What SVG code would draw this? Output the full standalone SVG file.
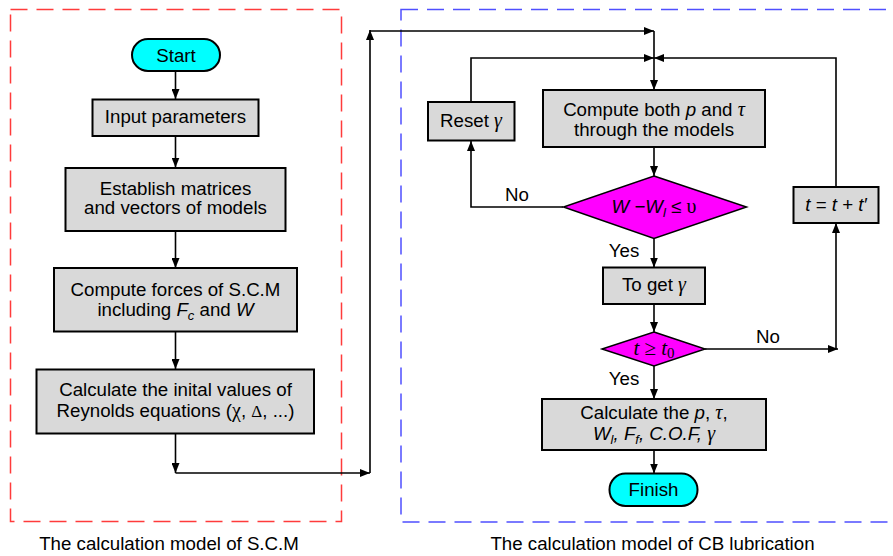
<svg xmlns="http://www.w3.org/2000/svg" width="893" height="556" viewBox="0 0 893 556">
<defs>
<marker id="ah" markerUnits="userSpaceOnUse" markerWidth="10" markerHeight="8" refX="10" refY="4" orient="auto">
<path d="M0,0 L10,4 L0,8 Z" fill="#000"/>
</marker>
<style>
.box{fill:#d9d9d9;stroke:#000;stroke-width:2}
.term{fill:#00ffff;stroke:#000;stroke-width:2}
.dec{fill:#ff00ff;stroke:#000;stroke-width:1.5}
.t{font-family:"Liberation Sans",Arial,sans-serif;font-size:18.7px;fill:#000;text-anchor:middle}
.i{font-style:italic}
.g{font-family:"Liberation Serif","Times New Roman",serif;font-style:italic;font-size:20px}
.c{fill:none;stroke:#000;stroke-width:1.6}
.a{marker-end:url(#ah)}
</style>
</defs>
<rect x="0" y="0" width="893" height="556" fill="#fff"/>
<rect x="10.5" y="9.5" width="331" height="512" fill="none" stroke="#ff3b3b" stroke-width="1.5" stroke-dasharray="17,9"/>
<rect x="401" y="9.5" width="520" height="512.5" fill="none" stroke="#4f4fff" stroke-width="1.5" stroke-dasharray="17,9"/>

<g id="connectors">
<path class="c a" d="M175.5,71 V99"/>
<path class="c a" d="M175.5,136 V167.5"/>
<path class="c a" d="M175.5,231 V268"/>
<path class="c a" d="M175.5,332 V369"/>
<path class="c a" d="M175.5,433 V473"/>
<path class="c a" d="M175.5,473 H370"/>
<path class="c a" d="M370,473 V30"/>
<path class="c a" d="M370,31 H654" stroke-width="2"/>
<path class="c a" d="M654,31 V90"/>
<path class="c a" d="M654,147 V176"/>
<path class="c a" d="M563,207 H471 V141"/>
<path class="c a" d="M471,102 V58 H654"/>
<path class="c a" d="M836,187 V58 H654"/>
<path class="c a" d="M654,239 V267.5"/>
<path class="c a" d="M654,304 V332"/>
<path class="c a" d="M705,349 H838"/>
<path class="c a" d="M836,349 V223"/>
<path class="c a" d="M654,366 V399"/>
<path class="c a" d="M654,450 V473.5"/>
</g>

<g id="start">
<rect class="term" x="132" y="39" width="88" height="32" rx="16"/>
<text class="t" x="176" y="62">Start</text>
</g>
<g id="input">
<rect class="box" x="92.5" y="99.5" width="166" height="36.5"/>
<text class="t" x="175.5" y="122.5">Input parameters</text>
</g>
<g id="establish">
<rect class="box" x="65.5" y="168" width="220" height="63"/>
<text class="t" x="175.5" y="194.5">Establish matrices</text>
<text class="t" x="175.5" y="214">and vectors of models</text>
</g>
<g id="forces">
<rect class="box" x="54" y="268" width="243" height="63.5"/>
<text class="t" x="175.5" y="295.5">Compute forces of S.C.M</text>
<text class="t" x="175.5" y="315.5">including <tspan class="i">F</tspan><tspan class="i" font-size="13" dy="4">c</tspan><tspan dy="-4"> and </tspan><tspan class="i">W</tspan></text>
</g>
<g id="initial">
<rect class="box" x="36.5" y="369.5" width="277.5" height="64"/>
<text class="t" x="175.5" y="396">Calculate the inital values of</text>
<text class="t" x="175.5" y="417">Reynolds equations (<tspan style="font-family:'Liberation Serif',serif;font-size:20px">χ</tspan>, <tspan style="font-family:'Liberation Serif',serif;font-size:17px">Δ</tspan>, ...)</text>
</g>

<g id="reset">
<rect class="box" x="428" y="102" width="86.5" height="38.5"/>
<text class="t" x="471" y="126.5">Reset <tspan class="g">γ</tspan></text>
</g>
<g id="compute">
<rect class="box" x="543" y="90" width="222" height="57"/>
<text class="t" x="654" y="115.5">Compute both <tspan class="i">p</tspan> and <tspan class="g">τ</tspan></text>
<text class="t" x="654" y="135.5">through the models</text>
</g>
<g id="check-w">
<polygon class="dec" points="654,176 746.5,207 654,238.5 563.5,207"/>
<text class="t" x="654" y="213"><tspan class="i">W</tspan>  <tspan class="i">−W</tspan><tspan class="i" font-size="13" dy="4">l</tspan><tspan dy="-4"> ≤ </tspan><tspan style="font-family:'Liberation Serif',serif;font-size:20px">υ</tspan></text>
</g>
<g id="toget">
<rect class="box" x="603" y="267.5" width="102" height="36.5"/>
<text class="t" x="654" y="291">To get <tspan class="g">γ</tspan></text>
</g>
<g id="check-t">
<polygon class="dec" points="654,332 705,349 654,366 602,349"/>
<text class="t" x="654" y="355" style="font-family:'Liberation Serif','Times New Roman',serif;font-size:21px"><tspan font-style="italic">t</tspan> ≥ <tspan font-style="italic">t</tspan><tspan font-size="15" dy="3">0</tspan></text>
</g>
<g id="tstep">
<rect class="box" x="793.5" y="187" width="85" height="36"/>
<text class="t i" x="836" y="211">t = t + t′</text>
</g>
<g id="result">
<rect class="box" x="542" y="399" width="224" height="51"/>
<text class="t" x="654" y="419">Calculate the <tspan class="i">p</tspan>, <tspan class="g">τ</tspan>,</text>
<text class="t i" x="654" y="439.5">W<tspan font-size="13" dy="4">l</tspan><tspan dy="-4">, F</tspan><tspan font-size="13" dy="4">f</tspan><tspan dy="-4">, C.O.F, </tspan><tspan class="g">γ</tspan></text>
</g>
<g id="finish">
<rect class="term" x="609.5" y="473.5" width="88" height="32.5" rx="16"/>
<text class="t" x="653.5" y="496">Finish</text>
</g>

<g id="labels">
<text class="t" x="517" y="201">No</text>
<text class="t" x="624" y="257">Yes</text>
<text class="t" x="768" y="343">No</text>
<text class="t" x="624" y="384.5">Yes</text>
<text class="t" x="169" y="550">The calculation model of S.C.M</text>
<text class="t" x="652.5" y="550">The calculation model of CB lubrication</text>
</g>
</svg>
